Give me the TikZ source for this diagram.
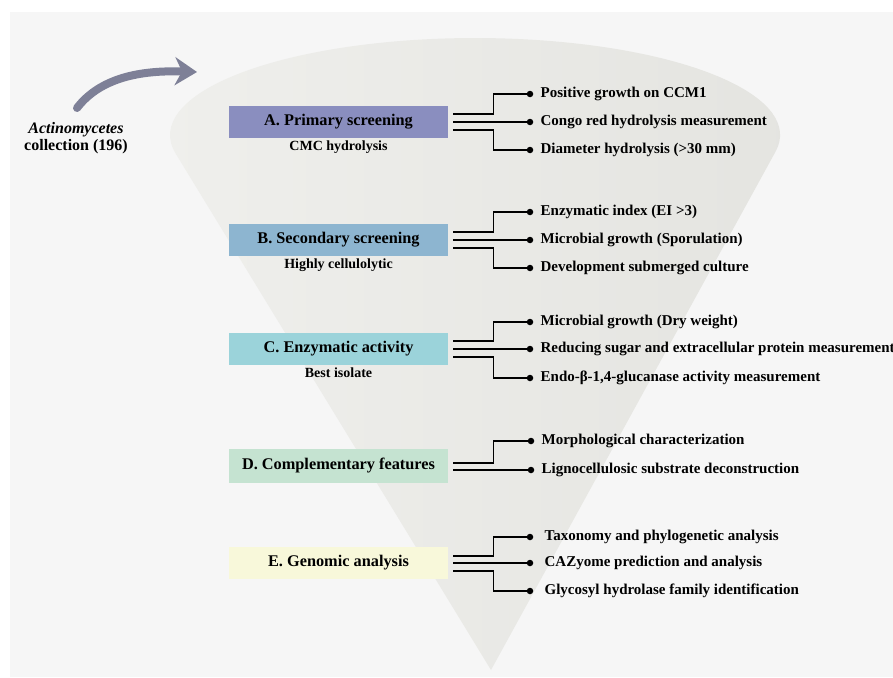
\documentclass[tikz,border=0pt]{standalone}
\usepackage{fontspec}
\setmainfont{Liberation Serif}
\usetikzlibrary{positioning,arrows.meta}
\definecolor{bggray}{HTML}{F6F6F6}
\definecolor{coneleft}{HTML}{EFEFEC}
\definecolor{coneright}{HTML}{E4E4E0}
\definecolor{curlgray}{HTML}{7E8097}
\definecolor{colA}{HTML}{8A8EBF}
\definecolor{colB}{HTML}{8DB5D0}
\definecolor{colC}{HTML}{9BD3DA}
\definecolor{colD}{HTML}{C5E3D1}
\definecolor{colE}{HTML}{F8F8DA}

\begin{document}
\begin{tikzpicture}[x=1pt, y=-1pt]
  \tikzstyle{stage}=[rectangle, minimum width=219pt, minimum height=32pt, inner sep=0pt, font=\fontsize{16.3}{18}\selectfont\bfseries]
  \tikzstyle{sub}=[inner sep=0pt, font=\fontsize{14}{16}\selectfont\bfseries]
  \tikzstyle{item}=[anchor=west, inner sep=0pt, font=\fontsize{15}{17}\selectfont\bfseries]
  \tikzstyle{dot}=[circle, fill=black, inner sep=0pt, minimum size=6.5pt]
  \tikzstyle{link}=[line width=1.4pt]

  \useasboundingbox (0,0) rectangle (893,677);
  \fill[bggray] (10,12) rectangle (893,677);
  \shade[left color=coneleft, right color=coneright] (491,670) -- (775.5,151.7)
    arc[start angle=9.9, end angle=-191, x radius=305, y radius=97] -- cycle;

  \node[align=center, font=\fontsize{16}{17}\selectfont\bfseries] (coll) at (76,138) {\textit{Actinomycetes}\\collection (196)};
  \coordinate (curlstart) at (77,108);
  \coordinate (curlend) at (197,72);
  \draw[curlgray, line width=8pt, line cap=round, -{Stealth[length=22pt, width=28pt, inset=7pt]}] (curlstart) .. controls (100,78) and (140,70) .. (curlend);

  \node[stage, fill=colA] (prim) at (338.5,122) {A. Primary screening};
  \node[sub, below=2pt of prim] (primsub) {CMC hydrolysis};
  \node[dot] (prim1) at (530,94) {};
  \node[dot] (prim2) at (530,122) {};
  \node[dot] (prim3) at (530,150) {};
  \node[item, right=7pt of prim1] (prim1l) {Positive growth on CCM1};
  \node[item, right=7pt of prim2] (prim2l) {Congo red hydrolysis measurement};
  \node[item, right=7pt of prim3] (prim3l) {Diameter hydrolysis (>30 mm)};
  \draw[link] ([xshift=5pt, yshift=8pt]prim.east) -- ++(40,0) |- (prim1);
  \draw[link] ([xshift=5pt]prim.east) -- (prim2);
  \draw[link] ([xshift=5pt, yshift=-8pt]prim.east) -- ++(40,0) |- (prim3);

  \node[stage, fill=colB] (sec) at (338.5,240) {B. Secondary screening};
  \node[sub, below=2pt of sec] (secsub) {Highly cellulolytic};
  \node[dot] (sec1) at (530,212) {};
  \node[dot] (sec2) at (530,240) {};
  \node[dot] (sec3) at (530,268) {};
  \node[item, right=7pt of sec1] (sec1l) {Enzymatic index (EI >3)};
  \node[item, right=7pt of sec2] (sec2l) {Microbial growth (Sporulation)};
  \node[item, right=7pt of sec3] (sec3l) {Development submerged culture};
  \draw[link] ([xshift=5pt, yshift=8pt]sec.east) -- ++(40,0) |- (sec1);
  \draw[link] ([xshift=5pt]sec.east) -- (sec2);
  \draw[link] ([xshift=5pt, yshift=-8pt]sec.east) -- ++(40,0) |- (sec3);

  \node[stage, fill=colC] (enz) at (338.5,349) {C. Enzymatic activity};
  \node[sub, below=2pt of enz] (enzsub) {Best isolate};
  \node[dot] (enz1) at (530,322) {};
  \node[dot] (enz2) at (530,349) {};
  \node[dot] (enz3) at (530,378) {};
  \node[item, right=7pt of enz1] (enz1l) {Microbial growth (Dry weight)};
  \node[item, right=7pt of enz2] (enz2l) {Reducing sugar and extracellular protein measurement};
  \node[item, right=7pt of enz3] (enz3l) {Endo-β-1,4-glucanase activity measurement};
  \draw[link] ([xshift=5pt, yshift=8pt]enz.east) -- ++(40,0) |- (enz1);
  \draw[link] ([xshift=5pt]enz.east) -- (enz2);
  \draw[link] ([xshift=5pt, yshift=-8pt]enz.east) -- ++(40,0) |- (enz3);

  \node[stage, fill=colD, minimum height=34pt] (comp) at (338.5,466) {D. Complementary features};
  \node[dot] (comp1) at (531,441) {};
  \node[dot] (comp2) at (531,470) {};
  \node[item, right=7pt of comp1] (comp1l) {Morphological characterization};
  \node[item, right=7pt of comp2] (comp2l) {Lignocellulosic substrate deconstruction};
  \draw[link] ([xshift=5pt, yshift=3pt]comp.east) -- ++(40,0) |- (comp1);
  \draw[link] ([xshift=5pt, yshift=-4pt]comp.east) -- (comp2);

  \node[stage, fill=colE] (gen) at (338.5,563) {E. Genomic analysis};
  \node[dot] (gen1) at (530,537) {};
  \node[dot] (gen2) at (530,563) {};
  \node[dot] (gen3) at (530,591) {};
  \node[item, right=11pt of gen1] (gen1l) {Taxonomy and phylogenetic analysis};
  \node[item, right=11pt of gen2] (gen2l) {CAZyome prediction and analysis};
  \node[item, right=11pt of gen3] (gen3l) {Glycosyl hydrolase family identification};
  \draw[link] ([xshift=5pt, yshift=7pt]gen.east) -- ++(40,0) |- (gen1);
  \draw[link] ([xshift=5pt]gen.east) -- (gen2);
  \draw[link] ([xshift=5pt, yshift=-8pt]gen.east) -- ++(40,0) |- (gen3);
\end{tikzpicture}
\end{document}
